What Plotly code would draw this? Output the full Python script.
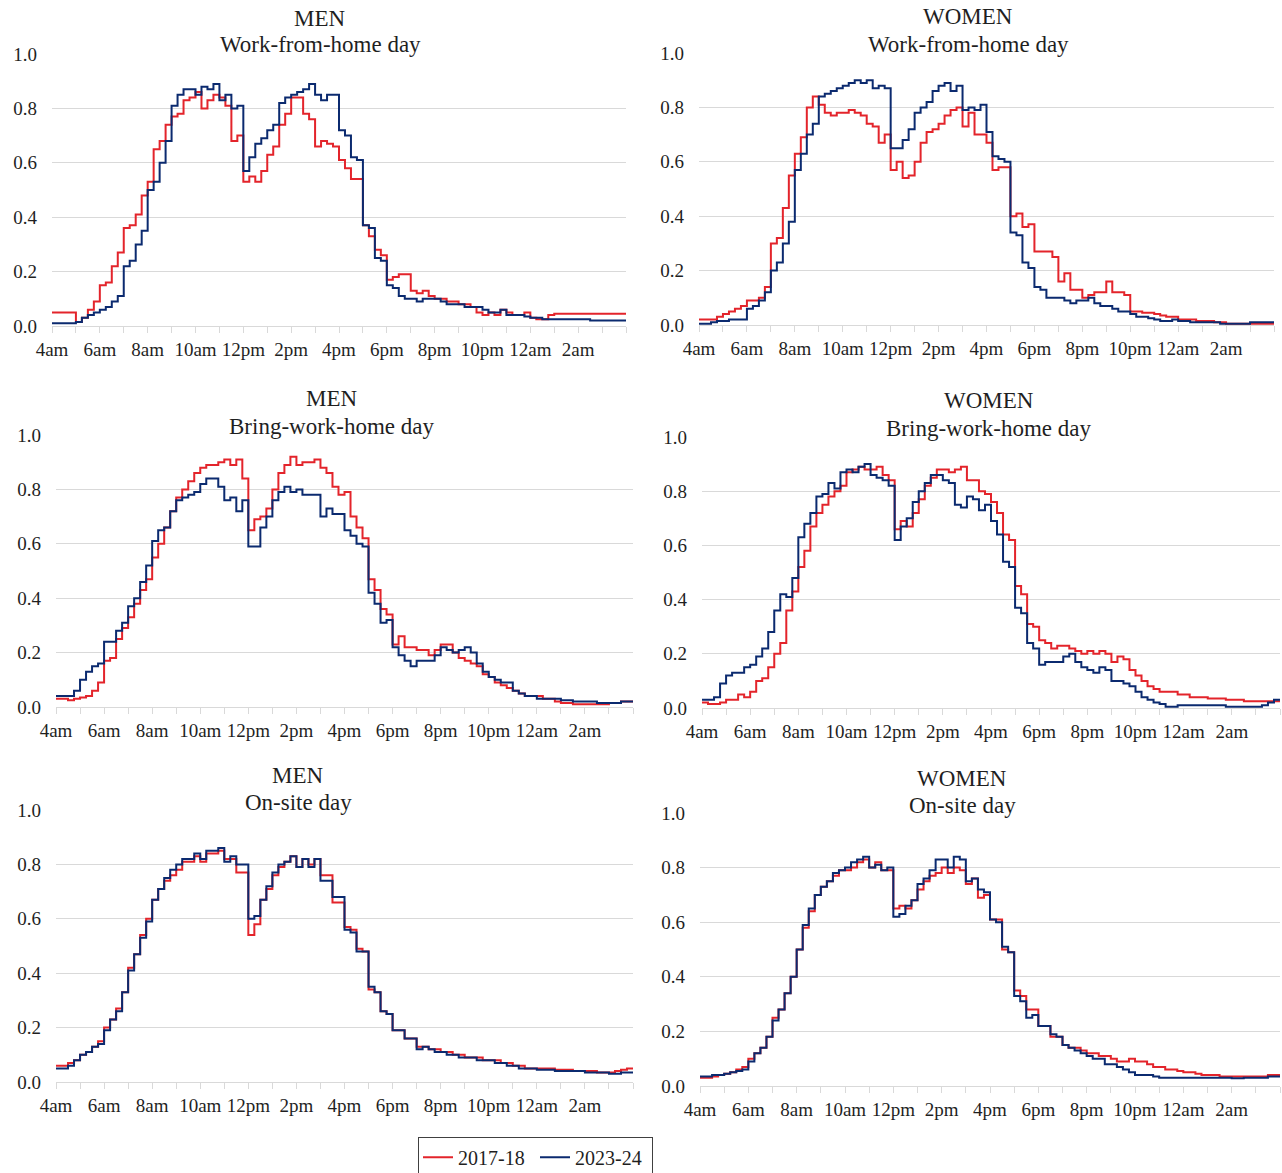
import plotly.graph_objects as go

# ---------------- data (share of people, 15-minute slots from 4:00am to 3:45am) ----------------
slot_hours = [4 + 0.25 * i for i in range(96)]
hour_ticks = list(range(4, 29))
hour_labels = ["4am", "", "6am", "", "8am", "", "10am", "", "12pm", "", "2pm", "", "4pm", "",
               "6pm", "", "8pm", "", "10pm", "", "12am", "", "2am", "", ""]
series_names = ["2017-18", "2023-24"]

men_wfh_1718 = [
    0.05, 0.05, 0.05, 0.05, 0.015, 0.03, 0.06, 0.09, 0.15, 0.16, 0.22, 0.27,
    0.36, 0.37, 0.41, 0.48, 0.53, 0.65, 0.68, 0.74, 0.77, 0.78, 0.83, 0.84,
    0.86, 0.80, 0.83, 0.85, 0.84, 0.81, 0.68, 0.70, 0.53, 0.55, 0.53, 0.57,
    0.63, 0.66, 0.74, 0.78, 0.84, 0.84, 0.78, 0.76, 0.66, 0.68, 0.67, 0.66,
    0.61, 0.58, 0.54, 0.54, 0.37, 0.33, 0.28, 0.26, 0.17, 0.18, 0.19, 0.19,
    0.13, 0.12, 0.13, 0.11, 0.10, 0.10, 0.09, 0.09, 0.08, 0.08, 0.07, 0.05,
    0.04, 0.05, 0.04, 0.06, 0.05, 0.04, 0.04, 0.05, 0.03, 0.025, 0.025, 0.04,
    0.045, 0.045, 0.045, 0.045, 0.045, 0.045, 0.045, 0.045, 0.045, 0.045, 0.045, 0.045]
men_wfh_2324 = [
    0.01, 0.01, 0.01, 0.01, 0.015, 0.03, 0.04, 0.05, 0.06, 0.07, 0.09, 0.11,
    0.22, 0.24, 0.30, 0.35, 0.50, 0.53, 0.60, 0.68, 0.81, 0.85, 0.87, 0.87,
    0.85, 0.88, 0.87, 0.89, 0.83, 0.85, 0.80, 0.81, 0.57, 0.62, 0.67, 0.69,
    0.72, 0.74, 0.82, 0.84, 0.85, 0.86, 0.87, 0.89, 0.85, 0.83, 0.85, 0.85,
    0.72, 0.70, 0.62, 0.61, 0.37, 0.36, 0.25, 0.24, 0.15, 0.14, 0.11, 0.10,
    0.10, 0.09, 0.10, 0.10, 0.10, 0.09, 0.08, 0.08, 0.08, 0.07, 0.07, 0.07,
    0.06, 0.05, 0.05, 0.06, 0.04, 0.04, 0.04, 0.035, 0.03, 0.03, 0.025, 0.025,
    0.025, 0.025, 0.025, 0.025, 0.025, 0.025, 0.02, 0.02, 0.02, 0.02, 0.02, 0.02]
women_wfh_1718 = [
    0.02, 0.02, 0.02, 0.03, 0.04, 0.05, 0.06, 0.07, 0.09, 0.09, 0.10, 0.14,
    0.30, 0.32, 0.43, 0.55, 0.63, 0.69, 0.80, 0.84, 0.81, 0.78, 0.77, 0.78,
    0.78, 0.79, 0.78, 0.77, 0.74, 0.73, 0.67, 0.70, 0.57, 0.60, 0.54, 0.55,
    0.60, 0.67, 0.71, 0.72, 0.74, 0.77, 0.79, 0.80, 0.73, 0.78, 0.70, 0.70,
    0.67, 0.57, 0.58, 0.58, 0.40, 0.41, 0.36, 0.37, 0.27, 0.27, 0.27, 0.25,
    0.16, 0.19, 0.13, 0.13, 0.10, 0.11, 0.12, 0.12, 0.16, 0.12, 0.12, 0.11,
    0.05, 0.05, 0.045, 0.045, 0.04, 0.035, 0.03, 0.03, 0.02, 0.02, 0.02, 0.015,
    0.015, 0.015, 0.01, 0.01, 0.005, 0.005, 0.005, 0.005, 0.005, 0.005, 0.005, 0.005]
women_wfh_2324 = [
    0.005, 0.005, 0.01, 0.015, 0.015, 0.02, 0.02, 0.02, 0.06, 0.07, 0.09, 0.12,
    0.20, 0.23, 0.30, 0.38, 0.57, 0.63, 0.70, 0.74, 0.84, 0.85, 0.86, 0.87,
    0.88, 0.89, 0.90, 0.89, 0.90, 0.87, 0.88, 0.87, 0.65, 0.65, 0.68, 0.72,
    0.78, 0.80, 0.82, 0.86, 0.88, 0.89, 0.86, 0.88, 0.79, 0.80, 0.79, 0.81,
    0.71, 0.62, 0.61, 0.60, 0.34, 0.33, 0.23, 0.21, 0.14, 0.13, 0.10, 0.10,
    0.10, 0.09, 0.08, 0.09, 0.09, 0.10, 0.08, 0.07, 0.07, 0.06, 0.05, 0.05,
    0.04, 0.03, 0.03, 0.025, 0.02, 0.015, 0.015, 0.02, 0.015, 0.015, 0.01, 0.01,
    0.01, 0.01, 0.01, 0.005, 0.005, 0.005, 0.005, 0.005, 0.01, 0.01, 0.01, 0.01]
men_bwh_1718 = [
    0.03, 0.03, 0.025, 0.03, 0.035, 0.04, 0.06, 0.09, 0.17, 0.18, 0.25, 0.29,
    0.33, 0.38, 0.43, 0.47, 0.55, 0.60, 0.66, 0.72, 0.77, 0.80, 0.83, 0.86,
    0.88, 0.89, 0.89, 0.90, 0.91, 0.89, 0.91, 0.84, 0.65, 0.69, 0.70, 0.73,
    0.80, 0.86, 0.89, 0.92, 0.89, 0.90, 0.90, 0.91, 0.88, 0.86, 0.81, 0.78,
    0.79, 0.70, 0.66, 0.62, 0.47, 0.43, 0.36, 0.34, 0.23, 0.26, 0.22, 0.22,
    0.21, 0.21, 0.19, 0.21, 0.23, 0.23, 0.20, 0.18, 0.17, 0.16, 0.15, 0.12,
    0.11, 0.09, 0.08, 0.07, 0.06, 0.05, 0.04, 0.04, 0.04, 0.03, 0.03, 0.02,
    0.015, 0.015, 0.01, 0.01, 0.01, 0.01, 0.01, 0.01, 0.015, 0.015, 0.02, 0.02]
men_bwh_2324 = [
    0.04, 0.04, 0.04, 0.06, 0.10, 0.13, 0.15, 0.16, 0.24, 0.24, 0.28, 0.31,
    0.37, 0.40, 0.46, 0.52, 0.61, 0.65, 0.66, 0.72, 0.76, 0.77, 0.78, 0.79,
    0.82, 0.84, 0.84, 0.81, 0.76, 0.77, 0.72, 0.76, 0.59, 0.59, 0.66, 0.70,
    0.76, 0.79, 0.81, 0.79, 0.80, 0.78, 0.78, 0.78, 0.70, 0.73, 0.71, 0.71,
    0.65, 0.63, 0.60, 0.59, 0.42, 0.38, 0.31, 0.32, 0.22, 0.19, 0.17, 0.15,
    0.17, 0.17, 0.17, 0.19, 0.22, 0.21, 0.20, 0.21, 0.22, 0.20, 0.16, 0.13,
    0.11, 0.10, 0.09, 0.09, 0.06, 0.05, 0.04, 0.04, 0.03, 0.03, 0.03, 0.03,
    0.025, 0.025, 0.02, 0.02, 0.02, 0.02, 0.015, 0.015, 0.015, 0.015, 0.02, 0.02]
women_bwh_1718 = [
    0.02, 0.015, 0.015, 0.02, 0.03, 0.03, 0.05, 0.04, 0.06, 0.10, 0.11, 0.15,
    0.20, 0.24, 0.36, 0.43, 0.52, 0.58, 0.67, 0.72, 0.75, 0.78, 0.80, 0.82,
    0.87, 0.88, 0.89, 0.88, 0.88, 0.89, 0.86, 0.84, 0.66, 0.69, 0.67, 0.72,
    0.77, 0.82, 0.85, 0.88, 0.88, 0.87, 0.88, 0.89, 0.84, 0.84, 0.80, 0.79,
    0.76, 0.72, 0.64, 0.62, 0.45, 0.42, 0.31, 0.30, 0.25, 0.24, 0.22, 0.23,
    0.23, 0.22, 0.21, 0.20, 0.21, 0.20, 0.21, 0.20, 0.17, 0.19, 0.18, 0.14,
    0.12, 0.10, 0.08, 0.07, 0.06, 0.06, 0.06, 0.05, 0.05, 0.04, 0.04, 0.04,
    0.035, 0.035, 0.035, 0.03, 0.03, 0.03, 0.025, 0.025, 0.025, 0.025, 0.025, 0.025]
women_bwh_2324 = [
    0.03, 0.03, 0.04, 0.09, 0.12, 0.13, 0.13, 0.15, 0.16, 0.19, 0.22, 0.28,
    0.36, 0.42, 0.41, 0.48, 0.63, 0.68, 0.72, 0.78, 0.79, 0.83, 0.81, 0.87,
    0.88, 0.87, 0.89, 0.90, 0.86, 0.85, 0.84, 0.82, 0.62, 0.67, 0.70, 0.76,
    0.80, 0.83, 0.86, 0.86, 0.84, 0.83, 0.75, 0.74, 0.78, 0.77, 0.73, 0.75,
    0.69, 0.64, 0.54, 0.52, 0.37, 0.35, 0.24, 0.22, 0.16, 0.17, 0.17, 0.17,
    0.19, 0.20, 0.17, 0.15, 0.14, 0.13, 0.15, 0.14, 0.10, 0.10, 0.09, 0.08,
    0.06, 0.04, 0.03, 0.02, 0.015, 0.005, 0.005, 0.01, 0.01, 0.01, 0.01, 0.01,
    0.01, 0.01, 0.01, 0.005, 0.005, 0.005, 0.005, 0.005, 0.005, 0.01, 0.02, 0.03]
men_onsite_1718 = [
    0.06, 0.06, 0.07, 0.08, 0.10, 0.11, 0.13, 0.15, 0.20, 0.23, 0.27, 0.33,
    0.42, 0.47, 0.54, 0.60, 0.67, 0.71, 0.74, 0.76, 0.78, 0.81, 0.81, 0.83,
    0.81, 0.84, 0.84, 0.85, 0.82, 0.82, 0.77, 0.77, 0.54, 0.58, 0.67, 0.71,
    0.76, 0.79, 0.81, 0.83, 0.79, 0.82, 0.80, 0.82, 0.76, 0.76, 0.66, 0.66,
    0.57, 0.56, 0.49, 0.48, 0.34, 0.33, 0.26, 0.25, 0.19, 0.19, 0.16, 0.16,
    0.13, 0.13, 0.12, 0.12, 0.11, 0.11, 0.10, 0.10, 0.09, 0.09, 0.09, 0.08,
    0.08, 0.08, 0.07, 0.07, 0.06, 0.06, 0.05, 0.05, 0.05, 0.05, 0.05, 0.045,
    0.045, 0.045, 0.04, 0.04, 0.04, 0.04, 0.035, 0.035, 0.035, 0.04, 0.045, 0.05]
men_onsite_2324 = [
    0.05, 0.05, 0.06, 0.08, 0.10, 0.11, 0.13, 0.14, 0.19, 0.23, 0.26, 0.33,
    0.41, 0.47, 0.53, 0.59, 0.67, 0.71, 0.75, 0.78, 0.80, 0.82, 0.82, 0.84,
    0.82, 0.85, 0.85, 0.86, 0.81, 0.83, 0.80, 0.80, 0.60, 0.61, 0.67, 0.72,
    0.77, 0.80, 0.81, 0.83, 0.79, 0.82, 0.79, 0.82, 0.74, 0.74, 0.68, 0.68,
    0.56, 0.55, 0.48, 0.48, 0.35, 0.33, 0.26, 0.25, 0.19, 0.19, 0.16, 0.16,
    0.12, 0.13, 0.12, 0.11, 0.11, 0.10, 0.10, 0.09, 0.09, 0.09, 0.08, 0.08,
    0.08, 0.07, 0.07, 0.06, 0.06, 0.05, 0.05, 0.05, 0.045, 0.045, 0.045, 0.04,
    0.04, 0.04, 0.04, 0.04, 0.035, 0.035, 0.035, 0.035, 0.03, 0.03, 0.035, 0.035]
women_onsite_1718 = [
    0.03, 0.03, 0.035, 0.04, 0.045, 0.05, 0.06, 0.07, 0.10, 0.12, 0.14, 0.18,
    0.25, 0.28, 0.34, 0.40, 0.50, 0.58, 0.64, 0.70, 0.73, 0.75, 0.77, 0.79,
    0.79, 0.80, 0.82, 0.83, 0.80, 0.82, 0.79, 0.79, 0.65, 0.66, 0.65, 0.68,
    0.72, 0.75, 0.77, 0.78, 0.80, 0.78, 0.80, 0.79, 0.74, 0.76, 0.69, 0.70,
    0.61, 0.61, 0.50, 0.49, 0.35, 0.33, 0.28, 0.28, 0.22, 0.22, 0.18, 0.18,
    0.15, 0.14, 0.14, 0.13, 0.12, 0.12, 0.11, 0.11, 0.10, 0.09, 0.09, 0.10,
    0.09, 0.09, 0.08, 0.07, 0.07, 0.06, 0.06, 0.055, 0.05, 0.05, 0.045, 0.04,
    0.04, 0.04, 0.035, 0.035, 0.035, 0.035, 0.035, 0.035, 0.035, 0.035, 0.04, 0.04]
women_onsite_2324 = [
    0.035, 0.035, 0.04, 0.04, 0.045, 0.05, 0.055, 0.06, 0.09, 0.12, 0.14, 0.18,
    0.24, 0.28, 0.34, 0.40, 0.50, 0.59, 0.65, 0.70, 0.73, 0.75, 0.78, 0.79,
    0.80, 0.82, 0.83, 0.84, 0.80, 0.81, 0.79, 0.80, 0.62, 0.63, 0.66, 0.68,
    0.74, 0.76, 0.79, 0.83, 0.83, 0.80, 0.84, 0.83, 0.75, 0.76, 0.72, 0.71,
    0.61, 0.60, 0.51, 0.49, 0.33, 0.31, 0.25, 0.26, 0.22, 0.22, 0.19, 0.18,
    0.15, 0.14, 0.13, 0.12, 0.11, 0.10, 0.10, 0.08, 0.08, 0.07, 0.06, 0.05,
    0.04, 0.04, 0.04, 0.035, 0.03, 0.03, 0.03, 0.03, 0.03, 0.03, 0.03, 0.03,
    0.03, 0.03, 0.03, 0.03, 0.028, 0.028, 0.03, 0.03, 0.03, 0.03, 0.035, 0.035]

panel_groups = ["MEN", "WOMEN", "MEN", "WOMEN", "MEN", "WOMEN"]
panel_days = ["Work-from-home day", "Work-from-home day", "Bring-work-home day",
              "Bring-work-home day", "On-site day", "On-site day"]
panel_series = [
    (men_wfh_1718, men_wfh_2324), (women_wfh_1718, women_wfh_2324),
    (men_bwh_1718, men_bwh_2324), (women_bwh_1718, women_bwh_2324),
    (men_onsite_1718, men_onsite_2324), (women_onsite_1718, women_onsite_2324),
]

# ---------------- layout / style (pixel geometry of each panel) ----------------
W, H = 1282, 1173
# (left, right, top(=1.0), bottom(=0.0)) in pixels
panel_boxes = [
    (52, 626, 54, 326), (699, 1274, 53, 325),
    (56, 633, 435, 707), (702, 1280, 437, 708),
    (56, 633, 810, 1082), (700, 1280, 813, 1086),
]
# title centre x, y of first line, y of second line
title_pos = [
    (320, 18, 45), (968, 17, 44),
    (332, 398, 426), (989, 401, 428),
    (298, 775, 802), (962, 778, 805),
]
colors = ["#E3242B", "#0B2A6F"]
FONT = "Liberation Serif, Times New Roman, serif"
TEXT = "#1f1f1f"
GRID = "#d9d9d9"

fig = go.Figure()
xs = slot_hours + [28]
for i, (series, box) in enumerate(zip(panel_series, panel_boxes)):
    n = i + 1
    for j, vals in enumerate(series):
        fig.add_trace(go.Scatter(
            x=xs, y=list(vals) + [vals[-1]], mode="lines",
            line=dict(color=colors[j], width=2, shape="hv"),
            name=series_names[j], legendgroup=series_names[j],
            showlegend=(i == 0),
            xaxis=f"x{n}", yaxis=f"y{n}",
        ))
    l, r, t, b = box
    xk = "xaxis" if n == 1 else f"xaxis{n}"
    yk = "yaxis" if n == 1 else f"yaxis{n}"
    fig.layout[xk] = dict(
        domain=[l / W, r / W], anchor=f"y{n}", range=[4, 28], automargin=False,
        tickmode="array", tickvals=hour_ticks, ticktext=hour_labels,
        ticks="outside", ticklen=6, tickcolor=GRID, tickwidth=1,
        showline=True, linecolor=GRID, linewidth=1, showgrid=False, zeroline=False,
        tickfont=dict(family=FONT, size=19, color=TEXT), tickangle=0,
    )
    fig.layout[yk] = dict(
        domain=[1 - b / H, 1 - t / H], anchor=f"x{n}", range=[0, 1.0], automargin=False,
        tickmode="linear", tick0=0, dtick=0.2, tickformat=".1f",
        showgrid=True, gridcolor=GRID, gridwidth=1, zeroline=False, showline=False,
        ticks="", ticklabelstandoff=14,
        tickfont=dict(family=FONT, size=19, color=TEXT),
    )

annotations = []
for (cx, y1, y2), grp, day in zip(title_pos, panel_groups, panel_days):
    annotations.append(dict(text=grp, x=cx / W, y=1 - y1 / H, xref="paper", yref="paper",
                            xanchor="center", yanchor="middle", showarrow=False,
                            font=dict(family=FONT, size=23, color=TEXT)))
    annotations.append(dict(text=day, x=cx / W, y=1 - y2 / H, xref="paper", yref="paper",
                            xanchor="center", yanchor="middle", showarrow=False,
                            font=dict(family=FONT, size=23, color=TEXT)))

fig.update_layout(
    width=W, height=H, margin=dict(l=0, r=0, t=0, b=0, pad=0, autoexpand=False),
    paper_bgcolor="white", plot_bgcolor="white",
    annotations=annotations,
    legend=dict(orientation="h", x=418 / W, xanchor="left", y=-0.004, yanchor="bottom",
                bordercolor="#404040", borderwidth=1, bgcolor="white",
                font=dict(family=FONT, size=20, color=TEXT), itemwidth=30,
                entrywidth=72, entrywidthmode="pixels", tracegroupgap=0),
    showlegend=True,
)

fig.write_html("out.html", config={"displayModeBar": False},
               post_script="document.body.style.margin='0';document.body.style.overflow='hidden';")
